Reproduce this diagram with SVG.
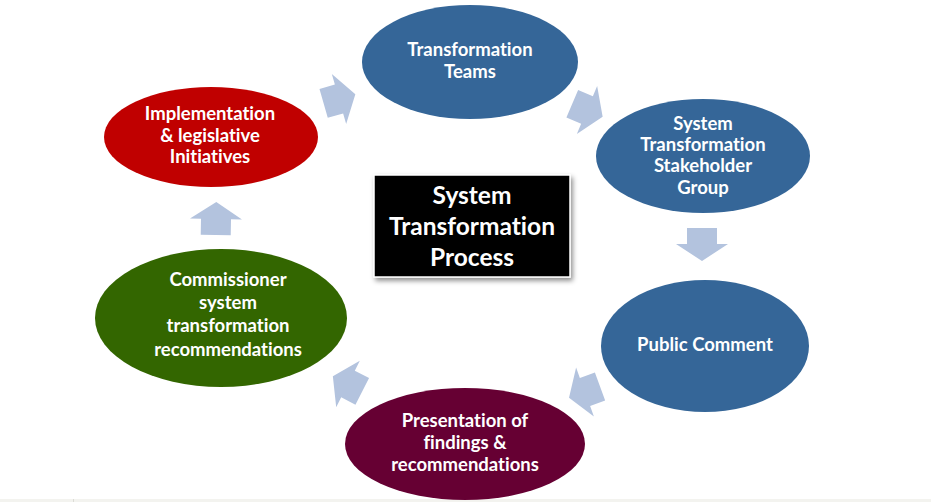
<svg xmlns="http://www.w3.org/2000/svg" width="931" height="502" viewBox="0 0 931 502">
<defs>
<style>
.t{font-family:Lato,"Open Sans","Liberation Sans",sans-serif;font-weight:bold;fill:#ffffff;text-anchor:middle;font-size:18.5px;font-variant-ligatures:none}
.c{font-size:24.5px}
.arr{fill:#b3c3de}
</style>
<polygon id="ar" points="-16,-15 0,-15 0,-26 17,0 0,26 0,15 -16,15"/>
<filter id="sh" x="-10%" y="-10%" width="130%" height="130%">
<feDropShadow dx="2" dy="3" stdDeviation="2.5" flood-color="#000" flood-opacity="0.45"/>
</filter>
</defs>
<rect width="931" height="502" fill="#ffffff"/>
<rect x="0" y="499" width="931" height="3" fill="#f3f3ef"/>
<line x1="73.5" y1="499" x2="73.5" y2="502" stroke="#dcdcd6" stroke-width="1"/>

<g id="connectors">
<use href="#ar" class="arr" transform="translate(339,99) rotate(-16)"/>
<use href="#ar" class="arr" transform="translate(587,110) rotate(23)"/>
<use href="#ar" class="arr" transform="translate(702,244) rotate(90)"/>
<use href="#ar" class="arr" transform="translate(585,392) rotate(160)"/>
<use href="#ar" class="arr" transform="translate(348,384) rotate(207)"/>
<use href="#ar" class="arr" transform="translate(216,219) rotate(-89)"/>
</g>

<g id="center">
<rect x="374" y="175" width="196" height="102" fill="#000000" stroke="#ffffff" stroke-width="1.5" filter="url(#sh)"/>
<text class="t c" x="472" y="204">System</text>
<text class="t c" x="472" y="235">Transformation</text>
<text class="t c" x="472" y="266">Process</text>
</g>

<g id="teams">
<ellipse cx="470" cy="62" rx="108" ry="57" fill="#356698"/>
<text class="t" x="470" y="56">Transformation</text>
<text class="t" x="470" y="78">Teams</text>
</g>

<g id="stakeholder">
<ellipse cx="703" cy="156" rx="107" ry="57" fill="#356698"/>
<text class="t" x="703" y="130">System</text>
<text class="t" x="703" y="151">Transformation</text>
<text class="t" x="703" y="172">Stakeholder</text>
<text class="t" x="703" y="194">Group</text>
</g>

<g id="public">
<ellipse cx="705" cy="346" rx="104" ry="66" fill="#356698"/>
<text class="t" x="705" y="351">Public Comment</text>
</g>

<g id="presentation">
<ellipse cx="465" cy="444" rx="120" ry="56" fill="#660033"/>
<text class="t" x="465" y="427">Presentation of</text>
<text class="t" x="465" y="449">findings &amp;</text>
<text class="t" x="465" y="471">recommendations</text>
</g>

<g id="commissioner">
<ellipse cx="221" cy="318" rx="126" ry="69" fill="#336600"/>
<text class="t" x="228" y="286">Commissioner</text>
<text class="t" x="228" y="309">system</text>
<text class="t" x="228" y="332">transformation</text>
<text class="t" x="228" y="356">recommendations</text>
</g>

<g id="implementation">
<ellipse cx="211" cy="137" rx="107" ry="50" fill="#c00000"/>
<text class="t" x="210" y="120">Implementation</text>
<text class="t" x="210" y="142">&amp; legislative</text>
<text class="t" x="210" y="163">Initiatives</text>
</g>
</svg>
